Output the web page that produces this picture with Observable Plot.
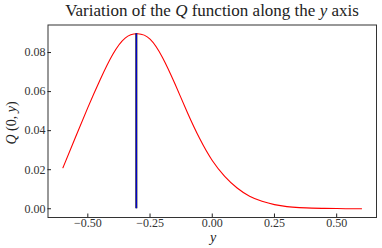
<!DOCTYPE html>
<html><head><meta charset="utf-8">
<script src="https://cdn.jsdelivr.net/npm/d3@7"></script>
<script src="https://cdn.jsdelivr.net/npm/@observablehq/plot@0.6"></script>
<style>body{margin:0;background:#fff;} svg{display:block}</style>
</head><body><div id="chart"></div>
<script>
const yPos = [-0.60,-0.55,-0.50,-0.45,-0.40,-0.35,-0.30,-0.25,-0.20,-0.15,-0.10,-0.05,0.00,0.05,0.10,0.15,0.20,0.25,0.30,0.35,0.40,0.45,0.50,0.55,0.60];
const qVals = [0.0210,0.0365,0.0518,0.0662,0.0790,0.0874,0.0896,0.0869,0.0775,0.0640,0.0493,0.0358,0.0247,0.0166,0.0106,0.0064,0.0038,0.0021,0.0011,0.0006,0.0003,0.0002,0.0001,0.0000,0.0000];
const peakY = -0.305;
const peakQ = 0.0896;
const xTicks = [-0.5,-0.25,0,0.25,0.5];
const yTicks = [0,0.02,0.04,0.06,0.08];
const data = yPos.map((y,i)=>({y, q:qVals[i]}));
const fmt = d => (d<0?"\u2212":"") + Math.abs(d).toFixed(2);
const plot = Plot.plot({
  width:382, height:248, marginLeft:47.5, marginRight:6, marginTop:24.5, marginBottom:31,
  style:{fontFamily:"Liberation Serif", fontSize:"12px", background:"#fff", color:"#333"},
  x:{domain:[-0.66,0.66], label:null},
  y:{domain:[-0.00448,0.0941], label:null},
  marks:[
    Plot.frame({stroke:"#333", strokeWidth:1}),
    Plot.axisX({ticks:xTicks, tickFormat:fmt, tickSize:-3.5, tickPadding:4.5, label:null, stroke:"#222"}),
    Plot.axisY({ticks:yTicks, tickFormat:fmt, tickSize:-3.5, tickPadding:6, label:null, stroke:"#222"}),
    Plot.line(data, {x:"y", y:"q", stroke:"red", strokeWidth:1.1, curve:"natural"}),
    Plot.ruleX([peakY], {y1:0, y2:peakQ, stroke:"#111", strokeWidth:2}),
    Plot.ruleX([peakY], {y1:0, y2:peakQ, stroke:"#0000ee", strokeWidth:1})
  ]
});
document.getElementById("chart").append(plot);
const svg = d3.select(plot);
const t = svg.append("text").attr("x",212).attr("y",16).attr("text-anchor","middle")
  .attr("font-family","Liberation Serif").attr("font-size",17).attr("fill","#222");
t.append("tspan").text("Variation of the ");
t.append("tspan").attr("font-style","italic").text("Q");
t.append("tspan").text(" function along the ");
t.append("tspan").attr("font-style","italic").text("y");
t.append("tspan").text(" axis");
const yl = svg.append("text").attr("transform","translate(16,123) rotate(-90)").attr("text-anchor","middle")
  .attr("font-family","Liberation Serif").attr("font-size",14).attr("fill","#222");
yl.append("tspan").attr("font-style","italic").text("Q");
yl.append("tspan").text(" (0, ");
yl.append("tspan").attr("font-style","italic").text("y");
yl.append("tspan").text(")");
svg.append("text").attr("x",213).attr("y",242).attr("text-anchor","middle")
  .attr("font-family","Liberation Serif").attr("font-size",14).attr("font-style","italic").attr("fill","#222").text("y");
</script>
</body></html>
